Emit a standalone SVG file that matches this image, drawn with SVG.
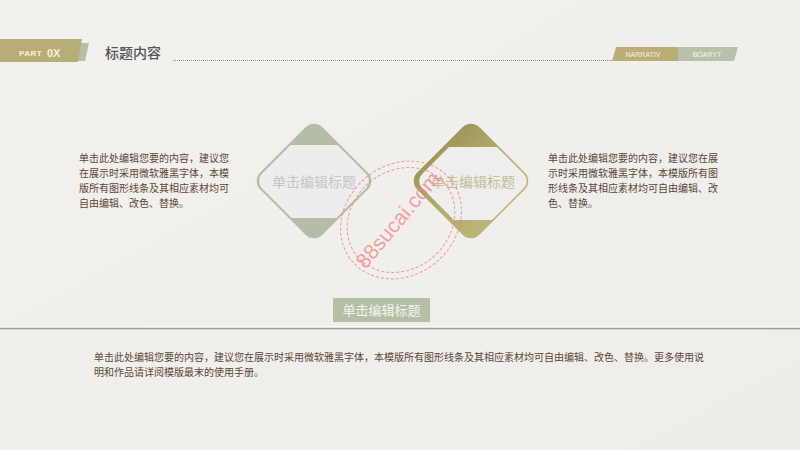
<svg xmlns="http://www.w3.org/2000/svg" width="800" height="450" viewBox="0 0 800 450">
  <defs>
    <style>
      .cn { font-family: "Noto Sans CJK SC", "Liberation Sans", sans-serif; }
      .body { font-size: 10px; fill: #5b4634; }
      .lat { font-family: "Liberation Sans", "DejaVu Sans", sans-serif; }
      .wm { fill: none; stroke: #f07a7a; stroke-width: 1; stroke-dasharray: 3 2; opacity: 0.75; }
    </style>
    <linearGradient id="bg" x1="0" y1="0" x2="1" y2="1">
      <stop offset="0" stop-color="#f3f1ee"/>
      <stop offset="1" stop-color="#efedea"/>
    </linearGradient>
    <linearGradient id="olive" x1="0" y1="0" x2="1" y2="0">
      <stop offset="0" stop-color="#a0975a"/>
      <stop offset="0.5" stop-color="#b5ab6e"/>
      <stop offset="1" stop-color="#bdb477"/>
    </linearGradient>
    <clipPath id="clipL">
      <rect x="-42" y="-42" width="84" height="84" rx="11" transform="translate(314 181) rotate(45)"/>
    </clipPath>
    <clipPath id="clipR">
      <rect x="-41" y="-41" width="82" height="82" rx="10" transform="translate(473 181) rotate(45)"/>
    </clipPath>
  </defs>

  <rect width="800" height="450" fill="url(#bg)"/>

  <!-- header -->
  <g id="part-banner">
    <polygon points="77,43 89,43 85,61 73,61" fill="#b7bfa9"/>
    <polygon points="0,39 82,39 78,62 0,62" fill="#b8ad74"/>
    <text x="19" y="56" class="lat" font-size="8" font-weight="bold" fill="#f6f1df" letter-spacing="0.5">PART</text>
    <text x="47" y="56.5" class="lat" font-size="11" font-weight="bold" fill="#f6f1df">0X</text>
  </g>
  <g id="title">
    <text x="105" y="58" class="cn" font-size="14" fill="#555" font-weight="500">标题内容</text>
    <line x1="173" y1="60.5" x2="614" y2="60.5" stroke="#8a8a8a" stroke-width="1" stroke-dasharray="1 1"/>
  </g>
  <g id="tabs">
    <polygon points="616,47 678,47 678,61 612,61" fill="#b9af76"/>
    <polygon points="678,47 738,47 734,61 678,61" fill="#b8c1ac"/>
    <text x="643" y="57" class="lat" font-size="7" fill="#f4f1e4" text-anchor="middle">NARRATIV</text>
    <text x="707" y="57" class="lat" font-size="7" fill="#f4f4ee" text-anchor="middle">BOARYT</text>
  </g>

  <!-- left text -->
  <g id="text-left" class="cn body">
    <text x="79" y="162">单击此处编辑您要的内容，建议您</text>
    <text x="79" y="177">在展示时采用微软雅黑字体，本模</text>
    <text x="79" y="192">版所有图形线条及其相应素材均可</text>
    <text x="79" y="207">自由编辑、改色、替换。</text>
  </g>

  <!-- right text -->
  <g id="text-right" class="cn body">
    <text x="548" y="162">单击此处编辑您要的内容，建议您在展</text>
    <text x="548" y="177">示时采用微软雅黑字体，本模版所有图</text>
    <text x="548" y="192">形线条及其相应素材均可自由编辑、改</text>
    <text x="548" y="207">色、替换。</text>
  </g>

  <!-- left diamond -->
  <g id="diamond-left">
    <rect x="-44" y="-44" width="88" height="88" rx="12" transform="translate(314 181) rotate(45)" fill="#b4bea7"/>
    <rect x="250" y="145" width="130" height="73" fill="#ecedec" clip-path="url(#clipL)"/>
    <text x="314" y="187" class="cn" font-size="14" fill="#c6c6c6" text-anchor="middle">单击编辑标题</text>
  </g>

  <!-- right diamond -->
  <g id="diamond-right">
    <rect x="-44" y="-44" width="88" height="88" rx="12" transform="translate(471 181) rotate(45)" fill="url(#olive)"/>
    <rect x="410" y="147" width="130" height="73" fill="#eeeeec" clip-path="url(#clipR)"/>
    <text x="473" y="187" class="cn" font-size="14" fill="#c4bd97" text-anchor="middle">单击编辑标题</text>
  </g>

  <!-- watermark -->
  <g id="watermark">
    <ellipse cx="401" cy="220" rx="64" ry="55" transform="rotate(-40 401 220)" class="wm"/>
    <ellipse cx="401" cy="220" rx="57" ry="49" transform="rotate(-40 401 220)" class="wm"/>
    <text x="398" y="227" class="lat" font-size="21" fill="#f08a8a" opacity="0.8" text-anchor="middle" transform="rotate(-50 398 220)">88sucai.com</text>
  </g>

  <!-- bottom label -->
  <g id="label-bottom">
    <rect x="333" y="298" width="97" height="24" fill="#b5bfa8"/>
    <text x="381.5" y="315" class="cn" font-size="13" fill="#f3f5ef" text-anchor="middle">单击编辑标题</text>
  </g>

  <g id="divider">
    <line x1="0" y1="327" x2="800" y2="327" stroke="#fbfaf8" stroke-width="2"/>
    <line x1="0" y1="328.5" x2="800" y2="328.5" stroke="#9b9b9b" stroke-width="1.5"/>
  </g>

  <g id="text-bottom" class="cn body">
    <text x="94" y="361">单击此处编辑您要的内容，建议您在展示时采用微软雅黑字体，本模版所有图形线条及其相应素材均可自由编辑、改色、替换。更多使用说</text>
    <text x="94" y="376">明和作品请详阅模版最末的使用手册。</text>
  </g>
</svg>
